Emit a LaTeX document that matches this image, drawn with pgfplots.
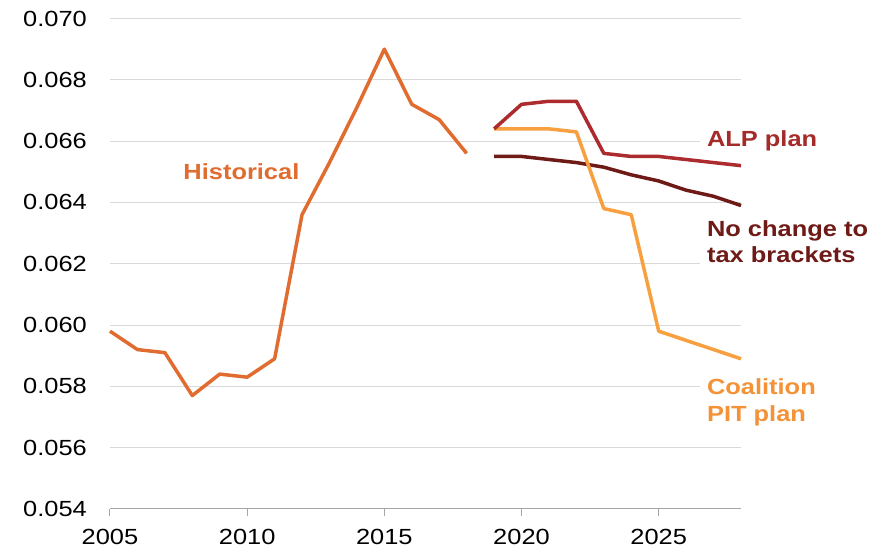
\documentclass[border=0pt]{standalone}
\usepackage{fontspec}
\setmainfont{Liberation Sans}[FakeStretch=1.16]
\usepackage{pgfplots}
\pgfplotsset{compat=1.18}
\definecolor{histc}{HTML}{E06C30}
\definecolor{alpc}{HTML}{AC2B2E}
\definecolor{alplab}{HTML}{A52A2A}
\definecolor{noc}{HTML}{6E1A17}
\definecolor{coac}{HTML}{F8A040}
\definecolor{coalab}{HTML}{F39237}
\definecolor{gridc}{HTML}{D9D9D9}
\definecolor{axisc}{HTML}{A6A6A6}
\begin{document}
\begin{tikzpicture}
\begin{axis}[
  scale only axis, width=631bp, height=490.5bp,
  xmin=2005, xmax=2028, ymin=0.054, ymax=0.070,
  xtick={2005,2010,2015,2020,2025},
  ytick={0.054,0.056,0.058,0.060,0.062,0.064,0.066,0.068,0.070},
  scaled y ticks=false,
  x tick label style={/pgf/number format/1000 sep={}},
  y tick label style={/pgf/number format/fixed, /pgf/number format/fixed zerofill, /pgf/number format/precision=3},
  /pgf/number format/assume math mode=true,
  tick label style={font=\fontsize{22}{26}\selectfont, text=black},
  yticklabel style={inner sep=0pt, anchor=east, xshift=-16bp},
  xticklabel style={inner sep=0pt, anchor=north, yshift=-13bp},
  axis x line*=bottom, axis y line*=left,
  x axis line style={draw=axisc, line width=1bp, -},
  y axis line style={draw=none},
  xtick style={draw=axisc, line width=1bp},
  ytick style={draw=none},
  tick align=outside, major tick length=7bp,
  ymajorgrids, grid style={draw=gridc, line width=1bp},
  clip=false,
  every axis plot/.append style={line width=3.5bp, line join=round, no marks},
]
\node[anchor=west, font=\fontsize{22}{26}\selectfont\bfseries, text=histc] at (axis cs:2007.55,0.0650) {Historical};
\node[anchor=west, fill=white, inner xsep=7bp, inner ysep=3bp, font=\fontsize{22}{26}\selectfont\bfseries, text=alplab] at (axis cs:2026.5,0.06600) {ALP plan};
\node[anchor=west, fill=white, inner xsep=7bp, inner ysep=12bp, align=left, font=\fontsize{22}{27}\selectfont\bfseries, text=noc] at (axis cs:2026.5,0.06272) {No change to\\tax brackets};
\node[anchor=west, fill=white, inner xsep=7bp, inner ysep=3bp, align=left, font=\fontsize{22}{27}\selectfont\bfseries, text=coalab] at (axis cs:2026.5,0.05748) {Coalition\\PIT plan};
\addplot[histc] coordinates {
(2005,0.0598) (2006,0.0592) (2007,0.0591) (2008,0.0577) (2009,0.0584)
(2010,0.0583) (2011,0.0589) (2012,0.0636) (2013,0.0653) (2014,0.0671)
(2015,0.0690) (2016,0.0672) (2017,0.0667) (2018,0.0656)};
\addplot[noc] coordinates {
(2019,0.0655) (2020,0.0655) (2021,0.0654) (2022,0.0653) (2023,0.06515)
(2024,0.0649) (2025,0.0647) (2026,0.0644) (2027,0.0642) (2028,0.0639)};
\addplot[coac] coordinates {
(2019,0.0664) (2020,0.0664) (2021,0.0664) (2022,0.0663) (2023,0.0638)
(2024,0.0636) (2025,0.0598) (2026,0.0595) (2027,0.0592) (2028,0.0589)};
\addplot[alpc] coordinates {
(2019,0.0664) (2020,0.0672) (2021,0.0673) (2022,0.0673) (2023,0.0656)
(2024,0.0655) (2025,0.0655) (2026,0.0654) (2027,0.0653) (2028,0.0652)};
\end{axis}
\pgfresetboundingbox
\path (-110bp,-39bp) rectangle (778bp,509bp);
\end{tikzpicture}
\end{document}
